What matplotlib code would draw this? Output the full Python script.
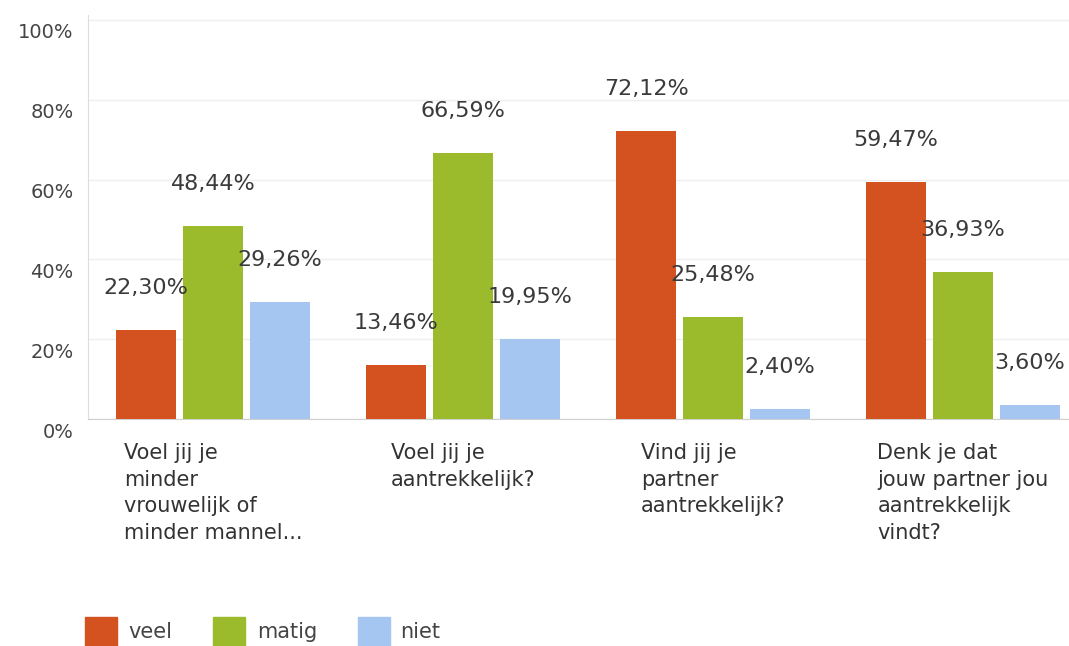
import numpy as np
import matplotlib.pyplot as plt
import matplotlib.transforms as mtransforms
from matplotlib.patches import Rectangle

# survey answers, percentages per question
questions = [
    'Voel jij je\nminder\nvrouwelijk of\nminder mannel...',
    'Voel jij je\naantrekkelijk?',
    'Vind jij je\npartner\naantrekkelijk?',
    'Denk je dat\njouw partner jou\naantrekkelijk\nvindt?',
]
series_names = ['veel', 'matig', 'niet']
veel = [22.30, 13.46, 72.12, 59.47]
matig = [48.44, 66.59, 25.48, 36.93]
niet = [29.26, 19.95, 2.40, 3.60]
yticks = [0, 20, 40, 60, 80, 100]

colors = ['#d4521f', '#9bbb2c', '#a6c6f2']
W, H = 1069, 646

fig = plt.figure(figsize=(W / 100, H / 100), dpi=100)
ax = fig.add_axes([88 / W, (H - 419) / H, (W - 88) / W, 404 / H])

x = np.arange(len(questions))
bw = 0.24
step = 0.268
for k, (vals, col) in enumerate(zip([veel, matig, niet], colors)):
    xs = x + (k - 1) * step
    ax.bar(xs, vals, width=bw, color=col, zorder=3)
    for xi, v in zip(xs, vals):
        ax.annotate(f'{v:.2f}%'.replace('.', ','), (xi, v), xytext=(0, 42),
                    textcoords='offset pixels',
                    ha='center', va='center', fontsize=16, color='#3a3a3a', zorder=4)

ax.set_xlim(-0.5, -0.5 + (W - 88) / 250)
ax.set_ylim(0, 100 * 404 / 399)
ax.set_yticks(yticks)
ax.set_yticklabels([f'{t}%' for t in yticks], fontsize=14, color='#444444')
ax.tick_params(axis='y', length=0, pad=10.5)
# labels sit a bit below their gridlines in the original
shift = mtransforms.ScaledTranslation(0, -11 / 100, fig.dpi_scale_trans)
for lab in ax.get_yticklabels():
    lab.set_transform(lab.get_transform() + shift)
ax.set_xticks([])
ax.grid(axis='y', color='#eeeeee', linewidth=1, zorder=0)
for s in ['top', 'right']:
    ax.spines[s].set_visible(False)
ax.spines['left'].set_color('#dddddd')
ax.spines['bottom'].set_color('#d0d0d0')

for xi, q in zip(x, questions):
    ax.annotate(q, (xi, 0), xytext=(0, -24), textcoords='offset pixels',
                ha='center', va='top', multialignment='left', fontsize=15,
                color='#333333', linespacing=1.42, annotation_clip=False)

# legend along the bottom
for (lx, tx), name, col in zip([(85, 128), (213, 257), (358, 400)], series_names, colors):
    fig.patches.append(Rectangle((lx / W, 0), 32 / W, 29 / H, transform=fig.transFigure,
                                 color=col, figure=fig))
    fig.text(tx / W, 14 / H, name, fontsize=15, color='#444444', va='center')

fig.savefig('out.png', dpi=100)
